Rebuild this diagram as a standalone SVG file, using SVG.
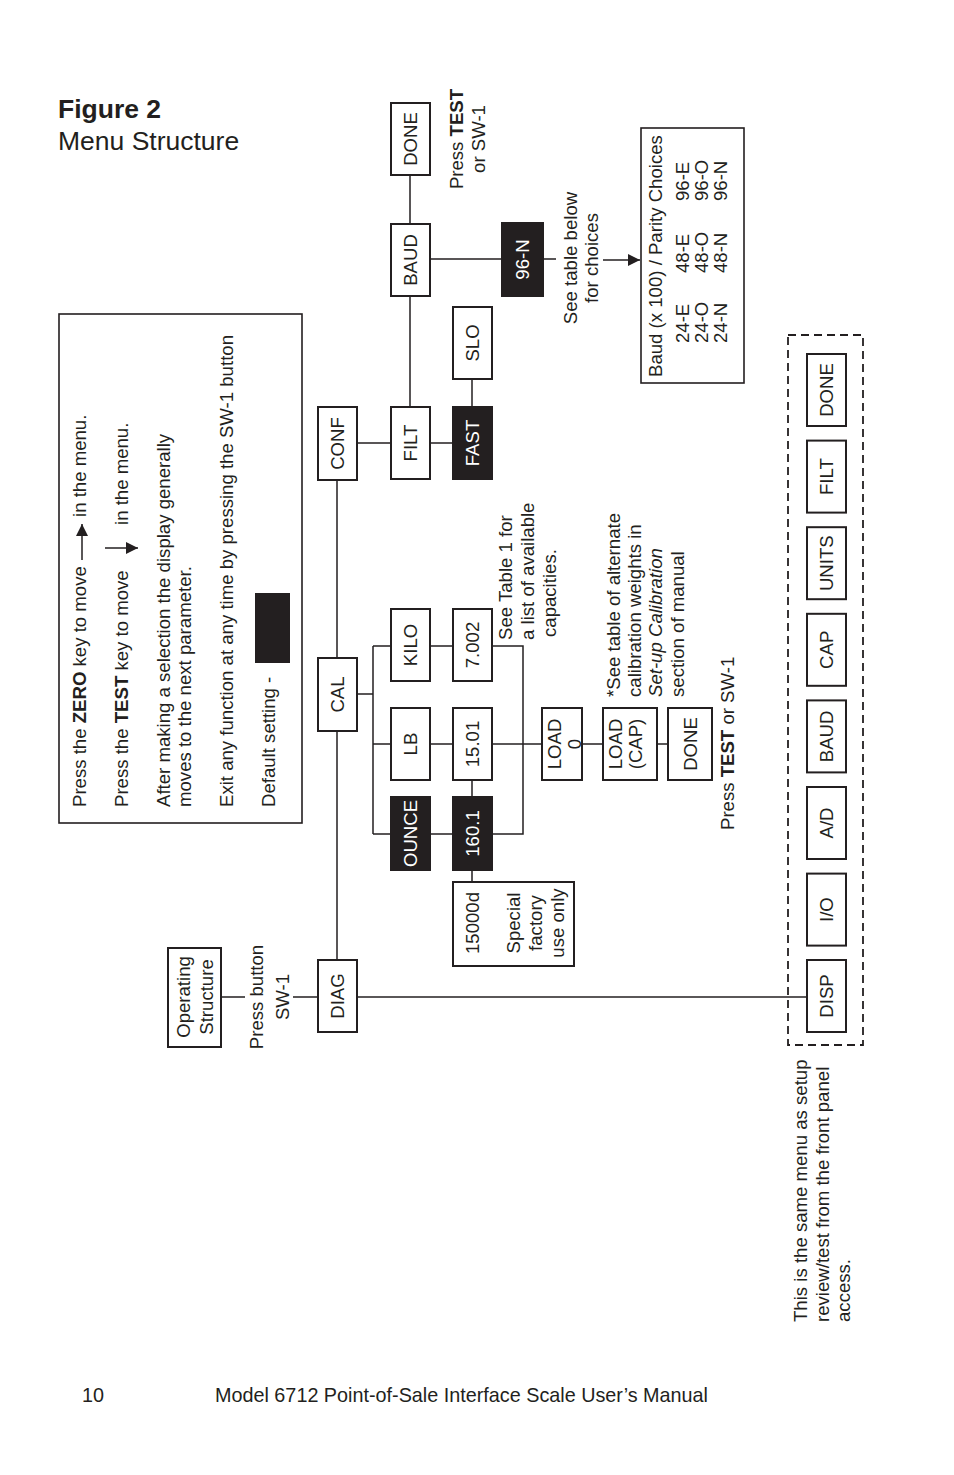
<svg xmlns="http://www.w3.org/2000/svg" width="954" height="1475" viewBox="0 0 954 1475">
<defs>
<style>
.t{font-family:"Liberation Sans",Arial,Helvetica,sans-serif;font-size:18.6px;fill:#231f20}
.w{fill:#ffffff}
.b{font-weight:bold}
.i{font-style:italic}
.box{fill:#ffffff;stroke:#231f20;stroke-width:2}
.blk{fill:#231f20;stroke:#231f20;stroke-width:2}
.ln{fill:none;stroke:#231f20;stroke-width:1.5}
.dash{fill:none;stroke:#231f20;stroke-width:1.8;stroke-dasharray:8 5}
</style>
<marker id="ah" viewBox="0 0 10 10" refX="10" refY="5" markerWidth="18" markerHeight="12" markerUnits="userSpaceOnUse" orient="auto">
<path d="M0,0 L10,5 L0,10 Z" fill="#231f20"/>
</marker>
</defs>
<rect width="954" height="1475" fill="#ffffff"/>

<g id="title">
<text class="t b" x="58" y="118" style="font-size:26.5px">Figure 2</text>
<text class="t" x="58" y="150" style="font-size:26.5px">Menu Structure</text>
</g>

<g id="legend">
<rect class="box" x="59" y="314" width="243" height="509" style="stroke-width:1.6"/>
<text class="t" transform="translate(86,807) rotate(-90)">Press the <tspan class="b">ZERO</tspan> key to move</text>
<line class="ln" x1="82" y1="560" x2="82" y2="524" marker-end="url(#ah)"/>
<text class="t" transform="translate(86,517) rotate(-90)">in the menu.</text>
<text class="t" transform="translate(128,807) rotate(-90)">Press the <tspan class="b">TEST</tspan> key to move</text>
<line class="ln" x1="105" y1="548" x2="138" y2="548" marker-end="url(#ah)"/>
<text class="t" transform="translate(128,525) rotate(-90)">in the menu.</text>
<text class="t" transform="translate(170,807) rotate(-90)">After making a selection the display generally</text>
<text class="t" transform="translate(191,807) rotate(-90)">moves to the next parameter.</text>
<text class="t" transform="translate(233,807) rotate(-90)">Exit any function at any time by pressing the SW-1 button</text>
<text class="t" transform="translate(275,807) rotate(-90)">Default setting -</text>
<rect x="255" y="593" width="35" height="70" fill="#231f20"/>
</g>

<g id="connectors">
<path class="ln" d="M221,997 H245 M293,997 H318"/>
<path class="ln" d="M357,997 H807"/>
<path class="ln" d="M337,960 V731 M337,658 V480"/>
<path class="ln" d="M357,443 H391 M430,443 H453"/>
<path class="ln" d="M410,407 V296 M410,224 V175"/>
<path class="ln" d="M472,407 V379"/>
<path class="ln" d="M430,259 H502 M543,259 H556"/>
<path class="ln" d="M603,260 H640" marker-end="url(#ah)"/>
<path class="ln" d="M357,694 H373 M373,646 V834 M373,646 H391 M373,744 H391 M373,834 H391"/>
<path class="ln" d="M430,646 H453 M430,744 H453 M430,834 H453"/>
<path class="ln" d="M492,646 H523 V834 H492"/>
<path class="ln" d="M492,744 H542"/>
<path class="ln" d="M472,780 V797 M472,870 V882"/>
<path class="ln" d="M582,744 H603 M657,744 H668"/>
</g>

<g id="operating">
<rect class="box" x="168" y="948" width="53" height="99"/>
<text class="t" text-anchor="middle" transform="translate(190,997) rotate(-90)">Operating</text>
<text class="t" text-anchor="middle" transform="translate(213,997) rotate(-90)">Structure</text>
</g>
<g id="press-sw1">
<text class="t" text-anchor="middle" transform="translate(263,997) rotate(-90)">Press button</text>
<text class="t" text-anchor="middle" transform="translate(289,997) rotate(-90)">SW-1</text>
</g>

<g id="diag"><rect class="box" x="318" y="960" width="39" height="72"/><text class="t" text-anchor="middle" transform="translate(344,996) rotate(-90)">DIAG</text></g>
<g id="cal"><rect class="box" x="318" y="658" width="39" height="73"/><text class="t" text-anchor="middle" transform="translate(344,694.5) rotate(-90)">CAL</text></g>
<g id="conf"><rect class="box" x="318" y="407" width="39" height="73"/><text class="t" text-anchor="middle" transform="translate(344,443.5) rotate(-90)">CONF</text></g>

<g id="filt"><rect class="box" x="391" y="407" width="39" height="72"/><text class="t" text-anchor="middle" transform="translate(417,443) rotate(-90)">FILT</text></g>
<g id="fast"><rect class="blk" x="453" y="407" width="39" height="72"/><text class="t w" text-anchor="middle" transform="translate(479,443) rotate(-90)">FAST</text></g>
<g id="slo"><rect class="box" x="453" y="307" width="39" height="72"/><text class="t" text-anchor="middle" transform="translate(479,343) rotate(-90)">SLO</text></g>
<g id="baud"><rect class="box" x="391" y="224" width="39" height="72"/><text class="t" text-anchor="middle" transform="translate(417,260) rotate(-90)">BAUD</text></g>
<g id="done-conf"><rect class="box" x="391" y="103" width="39" height="72"/><text class="t" text-anchor="middle" transform="translate(417,139) rotate(-90)">DONE</text></g>
<g id="press-test-top">
<text class="t" text-anchor="middle" transform="translate(463,139) rotate(-90)">Press <tspan class="b">TEST</tspan></text>
<text class="t" text-anchor="middle" transform="translate(485,139) rotate(-90)">or SW-1</text>
</g>
<g id="n96"><rect class="blk" x="502" y="223" width="41" height="73"/><text class="t w" text-anchor="middle" transform="translate(529,259.5) rotate(-90)">96-N</text></g>
<g id="see-table">
<text class="t" text-anchor="middle" transform="translate(577,258) rotate(-90)">See table below</text>
<text class="t" text-anchor="middle" transform="translate(598,258) rotate(-90)">for choices</text>
</g>
<g id="baud-table">
<rect class="box" x="641" y="128" width="103" height="255" style="stroke-width:1.6"/>
<text class="t" transform="translate(662,377) rotate(-90)">Baud (x 100) / Parity Choices</text>
<text class="t" transform="translate(689,343) rotate(-90)">24-E</text>
<text class="t" transform="translate(689,273) rotate(-90)">48-E</text>
<text class="t" transform="translate(689,201) rotate(-90)">96-E</text>
<text class="t" transform="translate(708,343) rotate(-90)">24-O</text>
<text class="t" transform="translate(708,273) rotate(-90)">48-O</text>
<text class="t" transform="translate(708,201) rotate(-90)">96-O</text>
<text class="t" transform="translate(727,343) rotate(-90)">24-N</text>
<text class="t" transform="translate(727,273) rotate(-90)">48-N</text>
<text class="t" transform="translate(727,201) rotate(-90)">96-N</text>
</g>

<g id="kilo"><rect class="box" x="391" y="609" width="39" height="72"/><text class="t" text-anchor="middle" transform="translate(417,645) rotate(-90)">KILO</text></g>
<g id="v7002"><rect class="box" x="453" y="609" width="39" height="72"/><text class="t" text-anchor="middle" transform="translate(479,645) rotate(-90)">7.002</text></g>
<g id="lb"><rect class="box" x="391" y="708" width="39" height="72"/><text class="t" text-anchor="middle" transform="translate(417,744) rotate(-90)">LB</text></g>
<g id="v1501"><rect class="box" x="453" y="708" width="39" height="72"/><text class="t" text-anchor="middle" transform="translate(479,744) rotate(-90)">15.01</text></g>
<g id="ounce"><rect class="blk" x="391" y="797" width="39" height="73"/><text class="t w" text-anchor="middle" transform="translate(417,833.5) rotate(-90)">OUNCE</text></g>
<g id="v1601"><rect class="blk" x="453" y="797" width="39" height="73"/><text class="t w" text-anchor="middle" transform="translate(479,833.5) rotate(-90)">160.1</text></g>
<g id="special">
<rect class="box" x="453" y="882" width="121" height="84"/>
<text class="t" text-anchor="middle" transform="translate(479,923) rotate(-90)">15000d</text>
<text class="t" text-anchor="middle" transform="translate(520,923) rotate(-90)">Special</text>
<text class="t" text-anchor="middle" transform="translate(542,923) rotate(-90)">factory</text>
<text class="t" text-anchor="middle" transform="translate(564,923) rotate(-90)">use only</text>
</g>
<g id="see-table1">
<text class="t" transform="translate(512,640) rotate(-90)">See Table 1 for</text>
<text class="t" transform="translate(534,640) rotate(-90)">a list of available</text>
<text class="t" transform="translate(556,637) rotate(-90)">capacities.</text>
</g>
<g id="load0"><rect class="box" x="542" y="708" width="40" height="72"/>
<text class="t" text-anchor="middle" transform="translate(561,744) rotate(-90)">LOAD</text>
<text class="t" text-anchor="middle" transform="translate(581,744) rotate(-90)">0</text></g>
<g id="loadcap"><rect class="box" x="603" y="708" width="54" height="72"/>
<text class="t" text-anchor="middle" transform="translate(622,744) rotate(-90)">LOAD</text>
<text class="t" text-anchor="middle" transform="translate(642,744) rotate(-90)">(CAP)</text></g>
<g id="done-cal"><rect class="box" x="668" y="708" width="44" height="72"/>
<text class="t" text-anchor="middle" transform="translate(696.5,744) rotate(-90)">DONE</text></g>
<g id="cal-note">
<text class="t" transform="translate(620,697) rotate(-90)">*See table of alternate</text>
<text class="t" transform="translate(641,697) rotate(-90)">calibration weights in</text>
<text class="t i" transform="translate(662,697) rotate(-90)">Set-up Calibration</text>
<text class="t" transform="translate(684,697) rotate(-90)">section of manual</text>
</g>
<g id="press-test-cal">
<text class="t" transform="translate(734,830) rotate(-90)">Press <tspan class="b">TEST</tspan> or SW-1</text>
</g>

<g id="diag-menu">
<rect class="dash" x="788" y="335" width="75" height="710"/>
<g id="disp"><rect class="box" x="807" y="960" width="39" height="72"/><text class="t" text-anchor="middle" transform="translate(833,996) rotate(-90)">DISP</text></g>
<g id="io"><rect class="box" x="807" y="873.6" width="39" height="72"/><text class="t" text-anchor="middle" transform="translate(833,909.6) rotate(-90)">I/O</text></g>
<g id="ad"><rect class="box" x="807" y="787" width="39" height="72"/><text class="t" text-anchor="middle" transform="translate(833,823) rotate(-90)">A/D</text></g>
<g id="baud2"><rect class="box" x="807" y="700.4" width="39" height="72"/><text class="t" text-anchor="middle" transform="translate(833,736.4) rotate(-90)">BAUD</text></g>
<g id="cap"><rect class="box" x="807" y="613.8" width="39" height="72"/><text class="t" text-anchor="middle" transform="translate(833,649.8) rotate(-90)">CAP</text></g>
<g id="units"><rect class="box" x="807" y="527.2" width="39" height="72"/><text class="t" text-anchor="middle" transform="translate(833,563.2) rotate(-90)">UNITS</text></g>
<g id="filt2"><rect class="box" x="807" y="440.6" width="39" height="72"/><text class="t" text-anchor="middle" transform="translate(833,476.6) rotate(-90)">FILT</text></g>
<g id="done2"><rect class="box" x="807" y="354" width="39" height="72"/><text class="t" text-anchor="middle" transform="translate(833,390) rotate(-90)">DONE</text></g>
</g>
<g id="diag-note">
<text class="t" transform="translate(807,1322) rotate(-90)">This is the same menu as setup</text>
<text class="t" transform="translate(829,1322) rotate(-90)">review/test from the front panel</text>
<text class="t" transform="translate(850,1322) rotate(-90)">access.</text>
</g>

<g id="footer">
<text class="t" x="82" y="1402" style="font-size:19.8px">10</text>
<text class="t" x="215" y="1402" style="font-size:19.8px">Model 6712 Point-of-Sale Interface Scale User’s Manual</text>
</g>
</svg>
